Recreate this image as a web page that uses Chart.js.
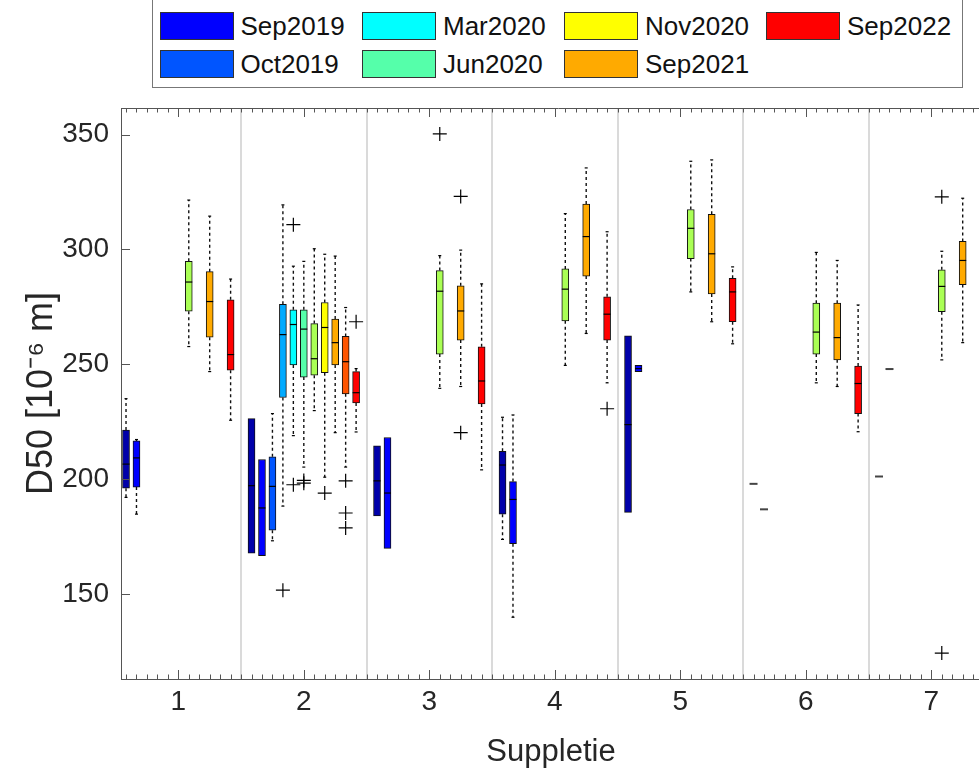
<!DOCTYPE html>
<html><head><meta charset="utf-8">
<script src="https://cdn.jsdelivr.net/npm/chart.js@4.4.1/dist/chart.umd.min.js"></script>
<style>
html,body{margin:0;padding:0;background:#fff;overflow:hidden;}
#wrap{position:relative;width:979px;height:774px;overflow:hidden;background:#fff;}
#c{position:absolute;left:0;top:0;}
#legend{position:absolute;left:152px;top:-10px;width:811px;height:98px;box-sizing:border-box;border:1px solid #777;background:#fff;font-family:'Liberation Sans',Arial,sans-serif;font-size:26px;color:#111;}
.item{position:absolute;height:28px;display:flex;align-items:center;white-space:nowrap;}
.sw{width:74px;height:28px;box-sizing:border-box;border:1px solid #333;margin-right:7px;flex:none;}
</style></head><body>
<div id="wrap"><canvas id="c" width="995" height="774"></canvas><div id="legend"></div></div>
<script>
// ---------------- data ----------------
const groups = ['1', '2', '3', '4', '5', '6', '7'];
const surveysPerGroup = 11;
const legendLabels = ['Sep2019', 'Oct2019', 'Mar2020', 'Jun2020', 'Nov2020', 'Sep2021', 'Sep2022'];
const yTickValues = [150, 200, 250, 300, 350];

// one entry per box: group index, survey index (colour slot), five-number summary, outliers
const boxGroup  = [0,0,0,0,0, 1,1,1,1,1,1,1,1,1,1,1, 2,2,2,2,2, 3,3,3,3,3, 4,4,4,4,4, 5,5,5,5,5, 6,6,6,6];
const boxSurvey = [0,1,6,8,10, 0,1,2,3,4,5,6,7,8,9,10, 0,1,6,8,10, 0,1,6,8,10, 0,1,6,8,10, 0,1,6,8,10, 0,1,6,8];
const boxMin = [192.0,184.7,257.7,246.8,225.6, 167.7,166.6,173.1,188.2,218.9,205.2,229.8,200.8,220.2,205.2,220.5, 183.9,169.8,239.5,240.3,204.0, 173.7,139.8,249.5,263.4,241.9, 185.5,246.8,281.5,268.5,258.9, 197.9,186.8,241.9,240.3,220.6, 201.1,247.9,251.9,259.4];
const boxQ1  = [196.0,196.5,273.1,261.8,247.4, 167.7,166.6,177.7,235.5,249.7,244.4,245.2,246.3,249.7,237.1,233.1, 183.9,169.8,254.4,260.5,232.7, 184.7,171.8,268.9,288.4,260.5, 185.5,246.8,296.0,280.6,268.5, 197.9,186.8,254.4,251.9,228.5, 201.1,247.9,272.9,284.7];
const boxMed = [206.5,209.2,285.8,277.3,254.2, 197.1,187.4,196.8,262.9,267.3,265.3,252.4,266.0,259.4,251.1,237.6, 199.2,193.9,281.8,273.2,242.7, 206.1,191.1,282.7,305.6,271.8, 223.7,248.1,309.2,298.1,281.5, 197.9,186.8,264.0,261.6,241.6, 201.1,247.9,283.9,295.2];
const boxQ3  = [221.3,216.6,294.8,290.3,278.1, 226.3,208.5,209.7,276.1,273.7,273.7,267.7,276.9,269.7,262.1,246.8, 214.5,218.1,290.8,284.2,257.6, 212.1,198.9,291.5,319.8,279.4, 262.4,249.5,317.4,315.3,287.4, 197.9,186.8,276.6,276.6,249.2, 201.1,247.9,291.1,303.5];
const boxMax = [235.0,217.2,321.5,314.5,287.1, 226.3,208.5,228.5,319.4,292.7,294.8,300.3,297.9,297.1,274.7,248.1, 214.5,218.1,297.3,299.7,285.0, 226.9,227.9,315.6,335.5,307.7, 262.4,249.5,338.4,339.0,292.4, 197.9,186.8,298.7,295.2,275.8, 201.1,247.9,299.2,322.3];
const boxOutliers = [[],[],[],[],[], [],[],[],[151.6],[310.8,197.5],[199.4,198.2],[],[193.9],[],[199.2,185.2,178.7],[268.5], [],[],[350.3],[323.1,220.2],[], [],[],[],[],[230.6], [],[],[],[],[], [],[],[],[],[], [],[],[322.9,124.2],[]];

// ---------------- styles ----------------
const surveyColors = ['#0000aa','#0000ff','#0055ff','#00aaff','#00ffff','#55ffaa','#aaff55','#ffff00','#ffaa00','#ff5500','#ff0000'];
const legendColors = ['#0000ff','#0055ff','#00ffff','#55ffaa','#ffff00','#ffaa00','#ff0000'];
const slotsPerGroup = surveysPerGroup + 1;
const pos = i => boxGroup[i] * slotsPerGroup + boxSurvey[i];

// ---------------- legend (HTML) ----------------
const legendCols = [6.5, 209, 411, 613];
const legendRows = [21, 59];
const legEl = document.getElementById('legend');
legendLabels.forEach((lab, i) => {
  const it = document.createElement('div');
  it.className = 'item';
  it.style.left = legendCols[Math.floor(i / 2)] + 'px';
  it.style.top = legendRows[i % 2] + 'px';
  const sw = document.createElement('div');
  sw.className = 'sw';
  sw.style.background = legendColors[i];
  const tx = document.createElement('span');
  tx.textContent = lab;
  it.appendChild(sw); it.appendChild(tx);
  legEl.appendChild(it);
});

// ---------------- datasets ----------------
const whiskers = [], caps = [], medians = [], singles = [], outliers = [];
boxMin.forEach((_, i) => {
  const x = pos(i);
  if (boxMax[i] === boxMin[i]) { singles.push({x, y: boxMed[i]}); return; }
  if (boxMax[i] > boxQ3[i]) { whiskers.push({x, y: boxQ3[i]}, {x, y: boxMax[i]}, {x, y: null}); caps.push({x, y: boxMax[i]}); }
  if (boxMin[i] < boxQ1[i]) { whiskers.push({x, y: boxQ1[i]}, {x, y: boxMin[i]}, {x, y: null}); caps.push({x, y: boxMin[i]}); }
  medians.push({x, y: boxMed[i]});
  boxOutliers[i].forEach(v => outliers.push({x, y: v}));
});

const datasets = [];
datasets.push({type: 'line', data: whiskers, borderColor: '#111', borderWidth: 1.4, borderDash: [3, 3], pointRadius: 0, spanGaps: false, order: 6});
datasets.push({type: 'scatter', data: caps, pointStyle: 'line', pointRadius: 1.5, borderColor: '#000', borderWidth: 1.2, order: 5});
surveyColors.forEach((col, s) => {
  const d = [];
  boxMin.forEach((_, i) => { if (boxSurvey[i] === s && boxQ3[i] > boxQ1[i]) d.push({x: pos(i), y: [boxQ1[i], boxQ3[i]]}); });
  datasets.push({type: 'bar', data: d, backgroundColor: col, borderColor: '#111', borderWidth: 1, borderSkipped: false, barThickness: 7, grouped: false, order: 3});
});
datasets.push({type: 'scatter', data: medians, pointStyle: 'line', pointRadius: 3.5, borderColor: '#000', borderWidth: 1.2, order: 2});
datasets.push({type: 'scatter', data: singles, pointStyle: 'line', pointRadius: 4, borderColor: '#444', borderWidth: 2, order: 2});
datasets.push({type: 'scatter', data: outliers, pointStyle: 'cross', pointRadius: 7, borderColor: '#000', borderWidth: 1.2, order: 1});

// ---------------- decorations ----------------
const axisColor = '#555';
const decor = {
  id: 'decor',
  beforeDatasetsDraw(chart) {
    const {ctx, chartArea: a, scales: {x}} = chart;
    ctx.save();
    ctx.strokeStyle = '#dadada'; ctx.lineWidth = 2;
    for (let g = 0; g < groups.length - 1; g++) {
      const px = Math.round(x.getPixelForValue(g * slotsPerGroup + surveysPerGroup));
      ctx.beginPath(); ctx.moveTo(px, a.top); ctx.lineTo(px, a.bottom); ctx.stroke();
    }
    ctx.restore();
  },
  afterDraw(chart) {
    const {ctx, chartArea: a, scales: {x, y}} = chart;
    ctx.save();
    ctx.strokeStyle = axisColor; ctx.lineWidth = 1;
    ctx.beginPath();
    ctx.moveTo(a.left, a.top + 0.5); ctx.lineTo(a.right + 20, a.top + 0.5);
    for (let p = Math.ceil(x.min); p <= Math.floor(x.max); p++) {
      const px = Math.round(x.getPixelForValue(p)) + 0.5;
      const len = (p % slotsPerGroup === 5) ? 9 : 4.5;
      ctx.moveTo(px, a.bottom); ctx.lineTo(px, a.bottom - len);
      ctx.moveTo(px, a.top); ctx.lineTo(px, a.top + len);
    }
    yTickValues.forEach(v => {
      const py = Math.round(y.getPixelForValue(v)) + 0.5;
      ctx.moveTo(a.left, py); ctx.lineTo(a.left + 9, py);
    });
    ctx.stroke();
    ctx.restore();
  }
};

Chart.defaults.font.family = "'Liberation Sans', Arial, sans-serif";
Chart.defaults.color = '#262626';

new Chart(document.getElementById('c'), {
  type: 'bar',
  data: {datasets},
  plugins: [decor],
  options: {
    responsive: false,
    animation: false,
    devicePixelRatio: 1,
    layout: {padding: {top: 108, right: 14, left: 0, bottom: 0}},
    plugins: {legend: {display: false}, tooltip: {enabled: false}},
    scales: {
      x: {
        type: 'linear', min: -0.48, max: 81.75, offset: false,
        grid: {display: false, drawTicks: false},
        border: {display: true, color: axisColor, width: 1},
        afterBuildTicks: s => { s.ticks = groups.map((g, i) => ({value: i * slotsPerGroup + 5})); },
        afterFit: s => { s.height = 95; },
        ticks: {autoSkip: false, maxRotation: 0, padding: 6, font: {size: 28}, color: '#262626',
                callback: v => groups[Math.round((v - 5) / slotsPerGroup)]},
        title: {display: true, text: 'Suppletie', font: {size: 31}, color: '#262626', padding: {top: 0, bottom: 3}}
      },
      y: {
        type: 'linear', min: 112.9, max: 361.6,
        grid: {display: false, drawTicks: false},
        border: {display: true, color: axisColor, width: 1},
        afterBuildTicks: s => { s.ticks = yTickValues.map(v => ({value: v})); },
        afterFit: s => { s.width = 121; },
        ticks: {padding: 12, font: {size: 28}, color: '#262626'},
        title: {display: true, text: 'D50 [10⁻⁶ m]', font: {size: 36}, color: '#262626', padding: {top: 20, bottom: 0}}
      }
    }
  }
});
</script></body></html>
